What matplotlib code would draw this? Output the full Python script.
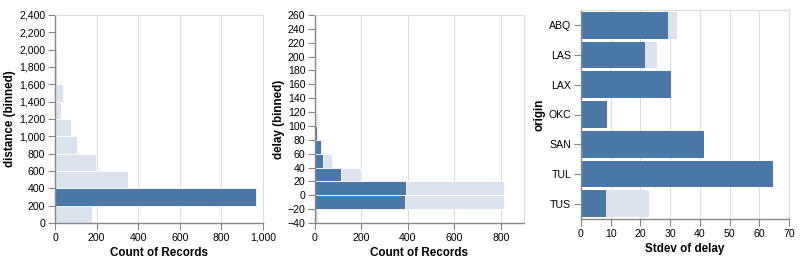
import matplotlib.pyplot as plt
from matplotlib.ticker import FuncFormatter, MultipleLocator

plt.rcParams['font.family'] = ['Liberation Sans', 'DejaVu Sans']

# distance histogram (bins of 200)
dist_bins = [0, 200, 400, 600, 800, 1000, 1200, 1400, 1600, 1800]
dist_all = [176, 968, 352, 198, 106, 77, 31, 37, 12, 10]
dist_sel = [0, 968, 0, 0, 0, 0, 0, 0, 0, 0]

# delay histogram (bins of 20)
delay_bins = [-40, -20, 0, 20, 40, 60, 80, 100, 120, 140, 160, 180]
delay_all = [14, 816, 813, 197, 72, 29, 12, 15, 3, 2, 1, 1]
delay_sel = [0, 386, 393, 110, 33, 24, 10, 4, 1, 0, 0, 0]

# stdev of delay per origin
origins = ['ABQ', 'LAS', 'LAX', 'OKC', 'SAN', 'TUL', 'TUS']
stdev_all = [32.2, 25.6, 30.4, 8.6, 41.4, 64.5, 22.8]
stdev_sel = [29.4, 21.6, 30.4, 8.6, 41.4, 64.5, 8.5]

dark = '#4c78a8'
light = '#dbe4ee'
W, H = 800, 260


def fmt(v, pos):
    return '{:,.0f}'.format(v).replace('-', '\u2212')


def style(ax, xlabel, ylabel):
    for s in ['top', 'right']:
        ax.spines[s].set_color('#dddddd')
        ax.spines[s].set_linewidth(0.8)
    for s in ['left', 'bottom']:
        ax.spines[s].set_color('#888888')
        ax.spines[s].set_linewidth(1)
    ax.tick_params(colors='#888888', labelcolor='black', labelsize=7.6,
                   length=5, width=0.8, pad=2)
    ax.grid(axis='x', color='#dddddd', linewidth=0.8)
    ax.set_axisbelow(True)
    ax.set_xlabel(xlabel, fontsize=8.4, fontweight='bold', labelpad=3)
    ax.set_ylabel(ylabel, fontsize=8.4, fontweight='bold', labelpad=2)
    ax.xaxis.set_major_formatter(FuncFormatter(fmt))


fig = plt.figure(figsize=(W / 100, H / 100), dpi=100)

# left: distance
ax1 = fig.add_axes([55 / W, (H - 223) / H, 208 / W, 208 / H])
ax1.barh(dist_bins, dist_all, height=200, align='edge', color=light,
         edgecolor='white', linewidth=0.6)
ax1.barh(dist_bins, dist_sel, height=200, align='edge', color=dark,
         edgecolor='white', linewidth=0.6)
ax1.set_xlim(0, 1000)
ax1.set_ylim(0, 2400)
ax1.xaxis.set_major_locator(MultipleLocator(200))
ax1.yaxis.set_major_locator(MultipleLocator(200))
ax1.yaxis.set_major_formatter(FuncFormatter(fmt))
style(ax1, 'Count of Records', 'distance (binned)')

# middle: delay
ax2 = fig.add_axes([315 / W, (H - 223) / H, 209 / W, 208 / H])
ax2.barh(delay_bins, delay_all, height=20, align='edge', color=light,
         edgecolor='white', linewidth=0.6)
ax2.barh(delay_bins, delay_sel, height=20, align='edge', color=dark,
         edgecolor='white', linewidth=0.6)
ax2.set_xlim(0, 900)
ax2.set_ylim(-40, 260)
ax2.set_xticks([0, 200, 400, 600, 800])
ax2.yaxis.set_major_locator(MultipleLocator(20))
ax2.yaxis.set_major_formatter(FuncFormatter(fmt))
style(ax2, 'Count of Records', 'delay (binned)')

# right: stdev by origin
ax3 = fig.add_axes([581 / W, (H - 219) / H, 208 / W, 209 / H])
pos = list(range(len(origins)))
ax3.barh(pos, stdev_all, height=0.9, color=light)
ax3.barh(pos, stdev_sel, height=0.9, color=dark)
ax3.set_xlim(0, 70)
ax3.set_ylim(6.52, -0.52)
ax3.set_yticks(pos)
ax3.set_yticklabels(origins)
ax3.xaxis.set_major_locator(MultipleLocator(10))
style(ax3, 'Stdev of delay', 'origin')

fig.savefig('out.png', dpi=100)
